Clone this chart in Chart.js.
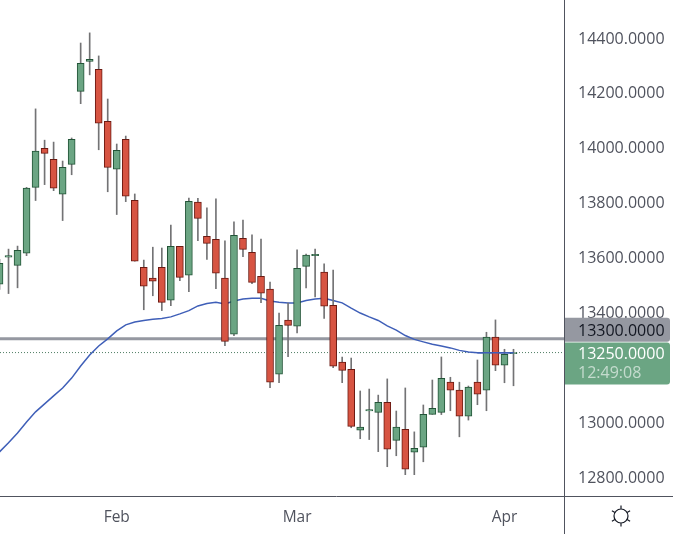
<!DOCTYPE html>
<html>
<head>
<meta charset="utf-8">
<style>
  html, body { margin: 0; padding: 0; background: #fff; }
  #wrap { width: 673px; height: 534px; }
</style>
<script src="https://cdn.jsdelivr.net/npm/chart.js@4"></script>
</head>
<body>
<div id="wrap"><canvas id="chart"></canvas></div>
<script>
// candle values, one entry per trading day
const dates = ['Jan 13','Jan 14','Jan 15','Jan 18','Jan 19','Jan 20','Jan 21','Jan 22','Jan 25','Jan 26','Jan 27','Jan 28','Jan 29',
  'Feb 1','Feb 2','Feb 3','Feb 4','Feb 5','Feb 8','Feb 9','Feb 10','Feb 11','Feb 12','Feb 15','Feb 16','Feb 17','Feb 18','Feb 19','Feb 22','Feb 23','Feb 24','Feb 25','Feb 26',
  'Mar 1','Mar 2','Mar 3','Mar 4','Mar 5','Mar 8','Mar 9','Mar 10','Mar 11','Mar 12','Mar 15','Mar 16','Mar 17','Mar 18','Mar 19','Mar 22','Mar 23','Mar 24','Mar 25','Mar 26','Mar 29','Mar 30','Mar 31',
  'Apr 1','Apr 2'];
const opens = [13499,13598,13568,13612,13852,13994,13954,13827,13936,14202,14311,14282,14093,13918,14027,13805,13561,13521,13561,13441,13637,13532,13798,13674,13663,13521,13317,13666,13615,13528,13481,13171,13368,13346,13564,13603,13543,13422,13215,13189,12967,13037,13032,13069,12930,12970,12887,12905,13025,13032,13142,13113,13018,13142,13113,13306,13204,13246];
const closes = [13575,13603,13623,13849,13984,13976,13849,13925,14027,14304,14319,14086,13925,13987,13820,13583,13492,13510,13433,13637,13524,13801,13739,13648,13539,13291,13677,13626,13506,13466,13142,13349,13349,13557,13605,13608,13419,13200,13185,12981,12978,13042,13069,12898,12978,12825,12901,13025,13047,13156,13113,13018,13124,13098,13306,13204,13244,13250];
const highs = [13590,13627,13638,13852,14138,14024,14017,13948,14032,14378,14415,14331,14174,14010,14039,13828,13587,13634,13631,13715,13637,13813,13812,13777,13810,13657,13726,13733,13679,13664,13507,13394,13430,13624,13609,13627,13573,13551,13234,13230,13110,13117,13095,13154,13037,13121,12961,13059,13150,13234,13160,13142,13128,13223,13324,13369,13262,13262];
const lows = [13480,13465,13486,13603,13804,13862,13840,13731,13898,14157,14262,13989,13836,13753,13800,13583,13406,13457,13403,13421,13512,13472,13658,13589,13483,13275,13312,13599,13501,13432,13122,13140,13235,13322,13486,13453,13374,13195,13140,12976,12936,12933,12889,12834,12874,12805,12805,12852,13025,13024,13038,12943,13004,13060,13038,13184,13140,13129];
const maValues = [12888,12921,12957,12997,13034,13063,13092,13121,13157,13201,13241,13274,13300,13329,13351,13361,13367,13371,13374,13380,13391,13403,13420,13429,13433,13427,13438,13445,13448,13448,13438,13433,13431,13431,13440,13445,13448,13440,13431,13412,13394,13380,13367,13347,13332,13312,13298,13289,13280,13274,13267,13258,13252,13249,13249,13249,13249,13249];

const priceTicks = [12800,13000,13400,13600,13800,14000,14200,14400];
const monthTicks = [13,33,56];
const monthNames = ['Feb','Mar','Apr'];
const levelPrice = 13300;
const lastPrice = 13250;
const countdown = '12:49:08';

// visible window of the chart
const xMin = 0.055, xMax = 62.6;
const yMin = 12727.3, yMax = 14534.8;

const UP = '#6BA583', UP_EDGE = '#225437', DOWN = '#D75442', DOWN_EDGE = '#6B1A12';
const WICK = '#737375', AXIS = '#50535E', TEXT = '#50535E', LEVEL = '#9598A1', MA = '#3F5FB8';
const FONT = '"Open Sans"';

const isUp = dates.map((d, i) => closes[i] >= opens[i]);
const wickData = dates.map((d, i) => ({ x: i, y: [lows[i], highs[i]] }));
const bodyData = dates.map((d, i) => ({ x: i, y: [opens[i], closes[i]] }));
const maData = dates.map((d, i) => ({ x: i, y: maValues[i] }));

// axis lines run to the window edge, price labels, flags and the settings icon sit on top
const overlay = {
    id: 'overlay',
    afterDraw(chart) {
        const ctx = chart.ctx, y = chart.scales.y, area = chart.chartArea;
        ctx.save();
        ctx.strokeStyle = AXIS;
        ctx.lineWidth = 1;
        ctx.beginPath();
        ctx.moveTo(area.right + 0.5, 0); ctx.lineTo(area.right + 0.5, 534);
        ctx.moveTo(0, area.bottom + 0.5); ctx.lineTo(673, area.bottom + 0.5);
        ctx.stroke();

        ctx.font = '16px ' + FONT;
        ctx.textBaseline = 'middle';
        ctx.textAlign = 'left';
        ctx.fillStyle = TEXT;
        // Open Sans sits high in its line box, so the labels are nudged down
        y.ticks.forEach(t => ctx.fillText(t.value.toFixed(4), 578, y.getPixelForValue(t.value) + 2));

        const levelY = y.getPixelForValue(levelPrice);
        const lastY = y.getPixelForValue(lastPrice);
        ctx.fillStyle = LEVEL;
        ctx.beginPath();
        ctx.roundRect(area.right + 1, levelY - 21, 105, 24, [0, 3, 3, 0]);
        ctx.fill();
        ctx.fillStyle = UP;
        ctx.beginPath();
        ctx.roundRect(area.right + 1, lastY - 10, 105, 42, [0, 3, 3, 0]);
        ctx.fill();

        ctx.fillStyle = '#131722';
        ctx.fillText(levelPrice.toFixed(4), 578, levelY - 7);
        ctx.fillStyle = '#FFFFFF';
        ctx.fillText(lastPrice.toFixed(4), 578, lastY + 2);
        ctx.fillStyle = 'rgba(255,255,255,0.6)';
        ctx.fillText(countdown, 578, lastY + 21);

        // settings icon
        const cx = 621, cy = 516;
        ctx.strokeStyle = '#131722';
        ctx.lineWidth = 1.2;
        ctx.beginPath();
        ctx.arc(cx, cy, 7, 0, Math.PI * 2);
        for (let a = 0; a < 6; a++) {
            const t = Math.PI / 6 + a * Math.PI / 3;
            ctx.moveTo(cx + 7 * Math.cos(t), cy + 7 * Math.sin(t));
            ctx.lineTo(cx + 10.5 * Math.cos(t), cy + 10.5 * Math.sin(t));
        }
        ctx.stroke();
        ctx.restore();
    }
};

new Chart(document.getElementById('chart'), {
    type: 'bar',
    data: {
        datasets: [
            // the moving average runs over the last few candles but behind the earlier ones
            { type: 'line', data: maData.slice(53), borderColor: MA, borderWidth: 1.5, pointRadius: 0, tension: 0, order: 0 },
            { type: 'bar', data: bodyData, barThickness: 7, grouped: false, borderWidth: 1, borderSkipped: false,
              backgroundColor: isUp.map(u => u ? UP : DOWN), borderColor: isUp.map(u => u ? UP_EDGE : DOWN_EDGE), order: 1 },
            { type: 'bar', data: wickData, barThickness: 1, grouped: false, backgroundColor: WICK, borderWidth: 0, order: 2 },
            { type: 'line', data: maData, borderColor: MA, borderWidth: 1.5, pointRadius: 0, tension: 0, order: 3 },
            { type: 'line', data: [{ x: xMin, y: levelPrice }, { x: xMax, y: levelPrice }], borderColor: LEVEL, borderWidth: 3, pointRadius: 0, order: 4 },
            { type: 'line', data: [{ x: xMin, y: lastPrice }, { x: xMax, y: lastPrice }], borderColor: '#4F7D64', borderWidth: 1, borderDash: [1, 2], pointRadius: 0, order: 5 }
        ]
    },
    options: {
        responsive: true,
        maintainAspectRatio: false,
        animation: false,
        layout: { padding: 0 },
        plugins: { legend: { display: false }, tooltip: { enabled: false } },
        scales: {
            x: {
                type: 'linear', min: xMin, max: xMax, offset: false,
                grid: { display: false, drawTicks: false }, border: { display: false },
                afterFit: s => { s.height = 38; s.paddingLeft = 0; s.paddingRight = 0; },
                afterBuildTicks: s => { s.ticks = monthTicks.map(v => ({ value: v })); },
                ticks: {
                    autoSkip: false, maxRotation: 0, padding: 12, color: TEXT, font: { family: FONT, size: 15.5 },
                    callback: v => monthNames[monthTicks.indexOf(v)]
                }
            },
            y: {
                position: 'right', min: yMin, max: yMax, beginAtZero: false,
                grid: { display: false, drawTicks: false }, border: { display: false },
                afterFit: s => { s.width = 109; s.paddingTop = 0; s.paddingBottom = 0; },
                afterBuildTicks: s => { s.ticks = priceTicks.map(v => ({ value: v })); },
                ticks: { display: false }
            }
        }
    },
    plugins: [overlay]
});
</script>
</body>
</html>
